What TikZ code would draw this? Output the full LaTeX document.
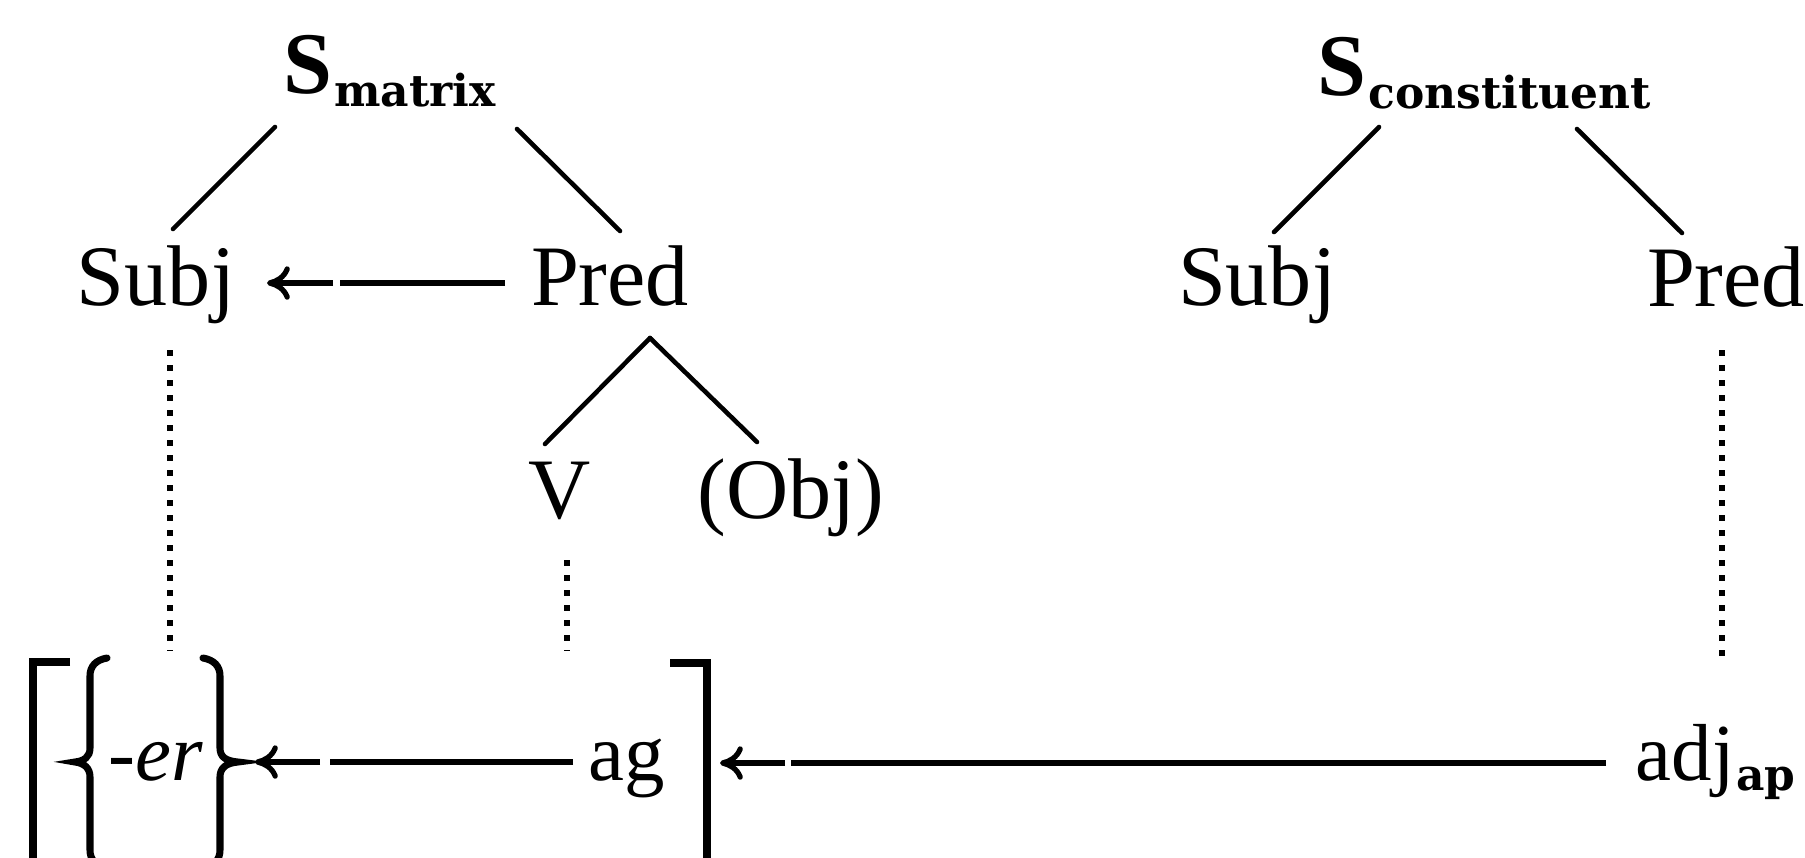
\documentclass[tikz,border=0pt]{standalone}
\usepackage{fontspec}
\setmainfont{Liberation Serif}
\newfontfamily\slabfont{DejaVu Serif}
\usetikzlibrary{arrows.meta}
\newcommand{\subslab}[2]{\raisebox{#1}{\slabfont\bfseries\fontsize{12.5}{15}\selectfont #2}}
\begin{document}
\begin{tikzpicture}[x=0.01cm,y=-0.01cm,
  word/.style={inner sep=0pt, anchor=base, font=\fontsize{24.5}{29}\selectfont},
  bigS/.style={inner sep=0pt, anchor=base west, font=\fontsize{25}{30}\selectfont\bfseries},
  tree/.style={line width=1.3pt, line cap=round},
  arr/.style={line width=1.45pt, -{Computer Modern Rightarrow[length=6.5pt,width=9.5pt,line width=1.5pt]}},
  bar/.style={line width=1.45pt},
  dots/.style={line width=1.7pt, line cap=butt, dash pattern=on 1.7pt off 2.57pt},
  bracket/.style={line width=2.3pt, line join=miter},
  brace/.style={line width=2pt, line cap=round}]
\useasboundingbox (0,0) rectangle (1805,857);
\clip (0,0) rectangle (1805,857);

% ---- left tree: S_matrix ----
\node[bigS] (smat) at (283,93) {S\kern0.5pt\subslab{-3.7pt}{matrix}};
\node[word] (subjA) at (156,305) {Subj};
\node[word] (predA) at (610,305) {Pred};
\node[word] (v)     at (560,518) {V};
\node[word] (obj)   at (791,518) {(Obj)};

\coordinate (smatL) at (275,127);  \coordinate (subjAtop) at (173,229);
\coordinate (smatR) at (517,129);  \coordinate (predAtop) at (620,231);
\coordinate (predAbot) at (650,338);
\coordinate (vtop) at (545,444);   \coordinate (objtop) at (757,442);
\draw[tree] (smatL) -- (subjAtop);
\draw[tree] (smatR) -- (predAtop);
\draw[tree] (predAbot) -- (vtop);
\draw[tree] (predAbot) -- (objtop);

% Pred points back at Subj
\coordinate (a1tip) at (267,283); \coordinate (a1gapL) at (333,283);
\coordinate (a1gapR) at (340,283); \coordinate (a1tail) at (505,283);
\draw[arr] (a1gapL) -- (a1tip);
\draw[bar] (a1tail) -- (a1gapR);

% ---- right tree: S_constituent ----
\node[bigS] (scon) at (1317,95) {S\kern0.5pt\subslab{-3.7pt}{constituent}};
\node[word] (subjB) at (1257,305) {Subj};
\node[word] (predB) at (1726,306) {Pred};
\coordinate (sconL) at (1379,127); \coordinate (subjBtop) at (1274,232);
\coordinate (sconR) at (1577,129); \coordinate (predBtop) at (1682,233);
\draw[tree] (sconL) -- (subjBtop);
\draw[tree] (sconR) -- (predBtop);

% ---- dotted correspondences ----
\coordinate (d1a) at (170,350);  \coordinate (d1b) at (170,651);
\coordinate (d2a) at (567,560);  \coordinate (d2b) at (567,651);
\coordinate (d3a) at (1722,350); \coordinate (d3b) at (1722,656);
\draw[dots] (d1a) -- (d1b);
\draw[dots] (d2a) -- (d2b);
\draw[dots] (d3a) -- (d3b);

% ---- bottom row ----
\node[word, font=\fontsize{23}{28}\selectfont] (er) at (156,780) {\textit{-er}};
\node[word, font=\fontsize{23}{28}\selectfont] (ag) at (627,780) {ag};
\node[word, anchor=base west, font=\fontsize{23}{28}\selectfont] (adj) at (1635,780)
  {adj\kern0.5pt\subslab{-3pt}{ap}};

% outer bracket
\draw[bracket] (70,662) -- (33,662) -- (33,900);
\draw[bracket] (670,663) -- (707,663) -- (707,900);
% braces round -er
\draw[brace] (107,658) .. controls (96,660) and (90,666) .. (90,676) -- (90,748)
  .. controls (90,757) and (84,761) .. (75,762)
  .. controls (84,763) and (90,768) .. (90,777) -- (90,850)
  .. controls (90,860) and (96,866) .. (107,868);
\draw[brace] (203,658) .. controls (214,660) and (220,666) .. (220,676) -- (220,748)
  .. controls (220,757) and (226,761) .. (238,762)
  .. controls (226,763) and (220,768) .. (220,777) -- (220,850)
  .. controls (220,860) and (214,866) .. (203,868);

% ag points back at -er
\coordinate (a2tip) at (255,762); \coordinate (a2gapL) at (320,762);
\coordinate (a2gapR) at (330,762); \coordinate (a2tail) at (573,762);
\draw[arr] (a2gapL) -- (a2tip);
\draw[bar] (a2tail) -- (a2gapR);

% adj points back at the bracket
\coordinate (a3tip) at (720,763); \coordinate (a3gapL) at (785,763);
\coordinate (a3gapR) at (791,763); \coordinate (a3tail) at (1606,763);
\draw[arr] (a3gapL) -- (a3tip);
\draw[bar] (a3tail) -- (a3gapR);
\end{tikzpicture}
\end{document}
